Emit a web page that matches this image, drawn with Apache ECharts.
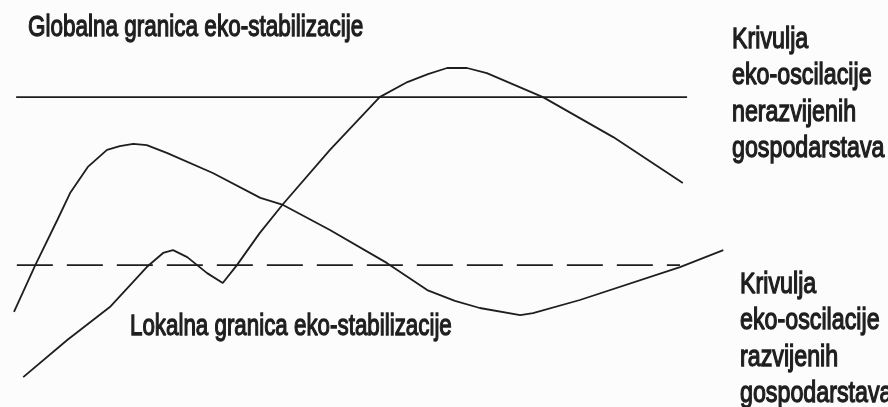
<!DOCTYPE html>
<html>
<head>
<meta charset="utf-8">
<script src="https://cdn.jsdelivr.net/npm/echarts@6/dist/echarts.min.js"></script>
<style>
  html, body { margin: 0; padding: 0; background: #fcfcfc; }
  #chart { width: 888px; height: 407px; }
</style>
</head>
<body>
<div id="chart"></div>
<script>
// granice eko-stabilizacije (vodoravne linije)
const globalnaX = [0.3, 94.8];
const globalnaY = [88.4, 88.4];
const lokalnaX = [0.4, 93.8];
const lokalnaY = [35.9, 35.9];

// krivulja razvijenih gospodarstava
const razvijenihX = [0, 3, 6.1, 7.9, 10.4, 13.1, 14.9, 16.8, 18.7, 21.6, 28, 34.7, 37.9, 44.5, 52.5, 58.2, 62.1, 65.6, 71.3, 73.1, 79.7, 93.8, 99.9];
const razvijenihY = [21.3, 35.9, 50, 58.4, 66.6, 71.9, 73.1, 73.8, 73.4, 70.9, 64.7, 56.9, 54.7, 46.9, 36.6, 28.1, 24.7, 22.5, 20.3, 20.9, 25, 35.3, 40.6];

// krivulja nerazvijenih gospodarstava
const nerazvijenihX = [1.3, 7.5, 13.5, 18.7, 21, 22.4, 24.4, 27.2, 29.4, 31.4, 34.6, 37.9, 44.5, 51.5, 55.4, 58.3, 61, 63.8, 66.6, 74.5, 84.4, 94.2];
const nerazvijenihY = [0.9, 12.5, 22.8, 35.3, 39.7, 40.6, 38.4, 33.4, 30.3, 35.9, 45.9, 55, 71.9, 88.4, 93.1, 95.6, 97.5, 97.5, 95.9, 88.4, 75.9, 61.6];

const labelGlobalna = "Globalna granica eko-stabilizacije";
const labelLokalna = "Lokalna granica eko-stabilizacije";
const labelNerazvijenih = ["Krivulja", "eko-oscilacije", "nerazvijenih", "gospodarstava"];
const labelRazvijenih = ["Krivulja", "eko-oscilacije", "razvijenih", "gospodarstava"];

const ink = "#1e1e1e";
// uzak, visok natpis: obicni font stisnut po sirini
const font = '30px "Liberation Sans", Arial, sans-serif';

const zip = (xs, ys) => xs.map((x, i) => [x, ys[i]]);

function lineSeries(name, xs, ys, type) {
  return {
    name: name,
    type: "line",
    data: zip(xs, ys),
    showSymbol: false,
    silent: true,
    lineStyle: { color: ink, width: 1.8, type: type || "solid" }
  };
}

function label(text, x, y, sx) {
  return {
    type: "text",
    x: x,
    y: y,
    scaleX: sx,
    silent: true,
    style: { text: text, font: font, fill: ink, lineHeight: 36.5, verticalAlign: "top", stroke: ink, lineWidth: 1.3 }
  };
}

const chart = echarts.init(document.getElementById("chart"), null, { renderer: "canvas" });
chart.setOption({
  animation: false,
  backgroundColor: "#fcfcfc",
  grid: { left: 14, right: 164, top: 60, bottom: 27 },
  xAxis: { type: "value", min: 0, max: 100, show: false },
  yAxis: { type: "value", min: 0, max: 100, show: false },
  series: [
    lineSeries("Globalna granica", globalnaX, globalnaY),
    lineSeries("Lokalna granica", lokalnaX, lokalnaY, [36, 14]),
    lineSeries("Razvijena gospodarstva", razvijenihX, razvijenihY),
    lineSeries("Nerazvijena gospodarstva", nerazvijenihX, nerazvijenihY)
  ],
  graphic: [
    label(labelGlobalna, 28, 9, 0.75),
    label(labelLokalna, 130, 308, 0.745),
    label(labelNerazvijenih.join("\n"), 732, 21, 0.775),
    label(labelRazvijenih.join("\n"), 740, 266, 0.775)
  ]
});
</script>
</body>
</html>
